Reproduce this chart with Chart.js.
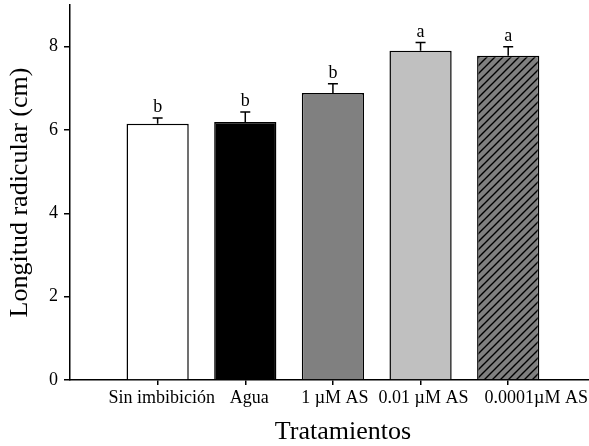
<!DOCTYPE html>
<html>
<head>
<meta charset="utf-8">
<script src="https://cdn.jsdelivr.net/npm/chart.js@4.4.1/dist/chart.umd.min.js"></script>
<style>
  html, body { margin: 0; padding: 0; background: #fff; overflow: hidden; }
  #wrap { width: 589px; height: 446px; overflow: hidden; }
</style>
</head>
<body>
<div id="wrap"><canvas id="chart" width="616" height="446"></canvas></div>
<script>
const categories = ['Sin imbibición', 'Agua', '1 \u00b5M AS', '0.01 \u00b5M AS', '0.0001\u00b5M AS'];
const means = [6.15, 6.19, 6.89, 7.90, 7.78];
const errors = [0.14, 0.24, 0.22, 0.20, 0.22];
const letters = ['b', 'b', 'b', 'a', 'a'];
const yTicks = [0, 2, 4, 6, 8];

const FONT = "'Liberation Serif', 'Times New Roman', serif";
// small horizontal nudges of the category labels, as in the original figure
const labelNudge = [4, 4, 2, 3, 28];

// diagonal hatch for the last bar
function hatch() {
    const c = document.createElement('canvas');
    c.width = 8; c.height = 8;
    const g = c.getContext('2d');
    g.fillStyle = '#808080';
    g.fillRect(0, 0, 8, 8);
    g.strokeStyle = '#000';
    g.lineWidth = 1.4;
    g.beginPath();
    g.moveTo(-1, 9); g.lineTo(9, -1);
    g.moveTo(-1, 1); g.lineTo(1, -1);
    g.moveTo(7, 9); g.lineTo(9, 7);
    g.stroke();
    return g.createPattern(c, 'repeat');
}

const ctx = document.getElementById('chart').getContext('2d');
const fills = ['#ffffff', '#000000', '#808080', '#c0c0c0', hatch()];

const errorBars = {
    id: 'errorBars',
    afterDatasetsDraw(chart) {
        const { ctx, scales: { x, y } } = chart;
        ctx.save();
        ctx.strokeStyle = '#000';
        ctx.lineWidth = 1.5;
        ctx.fillStyle = '#000';
        ctx.font = '18px ' + FONT;
        ctx.textAlign = 'center';
        ctx.textBaseline = 'alphabetic';
        means.forEach((m, i) => {
            const px = x.getPixelForValue(i + 1);
            const top = y.getPixelForValue(m);
            const hi = y.getPixelForValue(m + errors[i]);
            ctx.beginPath();
            ctx.moveTo(px, top);
            ctx.lineTo(px, hi);
            ctx.moveTo(px - 5, hi);
            ctx.lineTo(px + 5, hi);
            ctx.stroke();
            ctx.fillText(letters[i], px, hi - 6);
        });
        // category labels under the ticks
        categories.forEach((c, i) => {
            ctx.fillText(c, x.getPixelForValue(i + 1) + labelNudge[i], x.top + 23);
        });
        ctx.restore();
    }
};

new Chart(ctx, {
    type: 'bar',
    data: {
        datasets: [{
            data: means.map((v, i) => ({ x: i + 1, y: v })),
            backgroundColor: fills,
            borderColor: '#000',
            borderWidth: 1.5,
            borderSkipped: 'bottom',
            barPercentage: 0.71,
            categoryPercentage: 1,
        }],
    },
    options: {
        responsive: false,
        animation: false,
        layout: { padding: { top: 5, right: 0, left: 0, bottom: 0 } },
        plugins: {
            legend: { display: false },
            tooltip: { enabled: false },
        },
        scales: {
            x: {
                type: 'linear',
                min: 0,
                max: 6.23,
                offset: false,
                afterBuildTicks: s => { s.ticks = categories.map((_, i) => ({ value: i + 1 })); },
                afterFit: s => { s.height = 66; s.paddingLeft = 0; s.paddingRight = 0; },
                ticks: { display: false },
                grid: { offset: false, drawOnChartArea: false, drawTicks: true, tickLength: 5, color: '#000', lineWidth: 1.5 },
                border: { display: true, color: '#000', width: 1.5 },
                title: {
                    display: true,
                    text: 'Tratamientos',
                    color: '#000',
                    font: { family: FONT, size: 26 },
                    padding: { top: 0, bottom: -2 },
                },
            },
            y: {
                min: 0,
                max: 9,
                afterBuildTicks: s => { s.ticks = yTicks.map(v => ({ value: v })); },
                afterFit: s => { s.width = 70; s.paddingTop = 0; s.paddingBottom = 0; },
                ticks: {
                    color: '#000',
                    font: { family: FONT, size: 18 },
                    padding: 6,
                },
                grid: { drawOnChartArea: false, drawTicks: true, tickLength: 6, color: '#000', lineWidth: 1.5 },
                border: { display: true, color: '#000', width: 1.5 },
                title: {
                    display: true,
                    text: 'Longitud radicular (cm)',
                    color: '#000',
                    font: { family: FONT, size: 26 },
                    padding: { top: 5, bottom: 0 },
                },
            },
        },
    },
    plugins: [errorBars],
});
</script>
</body>
</html>
